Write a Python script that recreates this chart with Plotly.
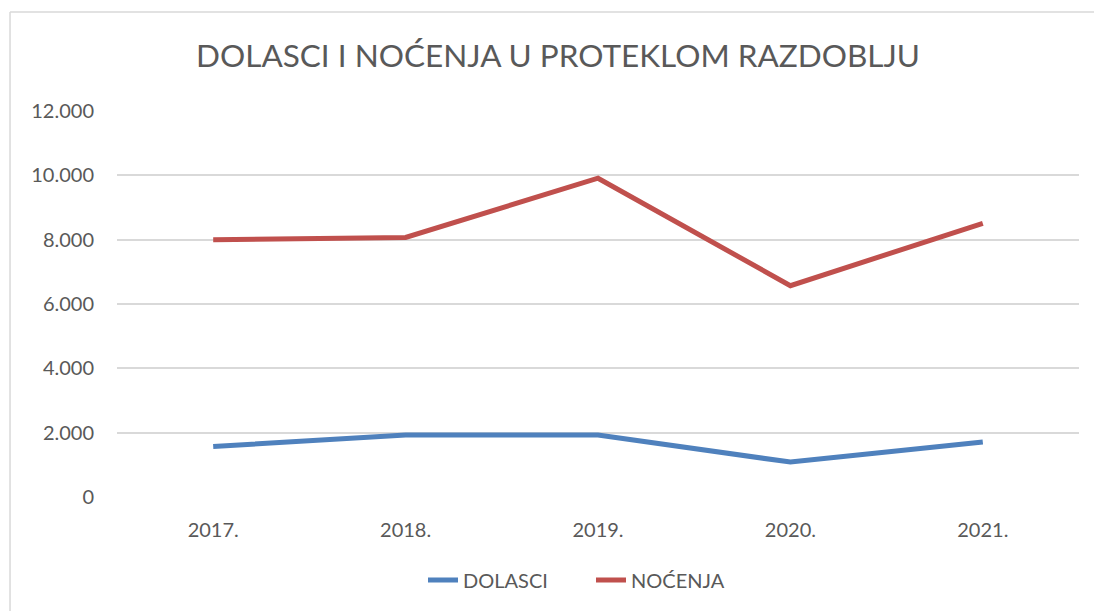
import plotly.graph_objects as go

years = ["2017.", "2018.", "2019.", "2020.", "2021."]
dolasci = [1570, 1925, 1925, 1085, 1710]
nocenja = [8000, 8070, 9910, 6570, 8510]
y_ticks = [0, 2000, 4000, 6000, 8000, 10000, 12000]
y_tick_labels = ["0", "2.000", "4.000", "6.000", "8.000", "10.000", "12.000"]

FONT = "Lato"
GREY = "#595959"

fig = go.Figure()
fig.add_trace(go.Scatter(x=years, y=dolasci, name="DOLASCI", mode="lines",
                         line=dict(color="#4F81BD", width=5)))
fig.add_trace(go.Scatter(x=years, y=nocenja, name="NOĆENJA", mode="lines",
                         line=dict(color="#C0504D", width=5)))

fig.update_layout(
    width=1094, height=611,
    margin=dict(l=117, r=15, t=111, b=114, autoexpand=False),
    paper_bgcolor="white", plot_bgcolor="white",
    font=dict(family=FONT, color=GREY, size=20),
    title=dict(text="DOLASCI I NOĆENJA U PROTEKLOM RAZDOBLJU",
               x=558/1094, xanchor="center", xref="container",
               y=1-56/611, yanchor="middle", yref="container",
               font=dict(family=FONT, size=31.5, color=GREY)),
    showlegend=True,
    legend=dict(orientation="h", x=(591-117)/962, xanchor="center",
                y=-0.215, yanchor="middle",
                font=dict(family=FONT, size=20, color=GREY),
                entrywidth=123, entrywidthmode="pixels", traceorder="normal"),
    xaxis=dict(type="category", range=[-0.5, 4.5], showgrid=False, zeroline=False,
               showline=False, ticks="outside", ticklen=15, tickcolor="rgba(0,0,0,0)",
               tickfont=dict(family=FONT, size=20, color=GREY), fixedrange=True),
    yaxis=dict(range=[0, 12000], tickvals=y_ticks, ticktext=y_tick_labels,
               showgrid=True, gridcolor="#D9D9D9", gridwidth=1.5, zeroline=False,
               showline=False, ticklabelstandoff=22,
               tickfont=dict(family=FONT, size=20, color=GREY)),
    shapes=[
        dict(type="line", xref="paper", yref="paper", x0=-0.1112, x1=1.03,
             y0=1.2565, y1=1.2565, line=dict(color="#D9D9D9", width=1.5)),
        dict(type="line", xref="paper", yref="paper", x0=-0.1112, x1=-0.1112,
             y0=1.2565, y1=-0.35, line=dict(color="#D9D9D9", width=1.5)),
    ],
)

fig.write_html("out.html", config={"displayModeBar": False},
               post_script="document.body.style.margin='0';")
